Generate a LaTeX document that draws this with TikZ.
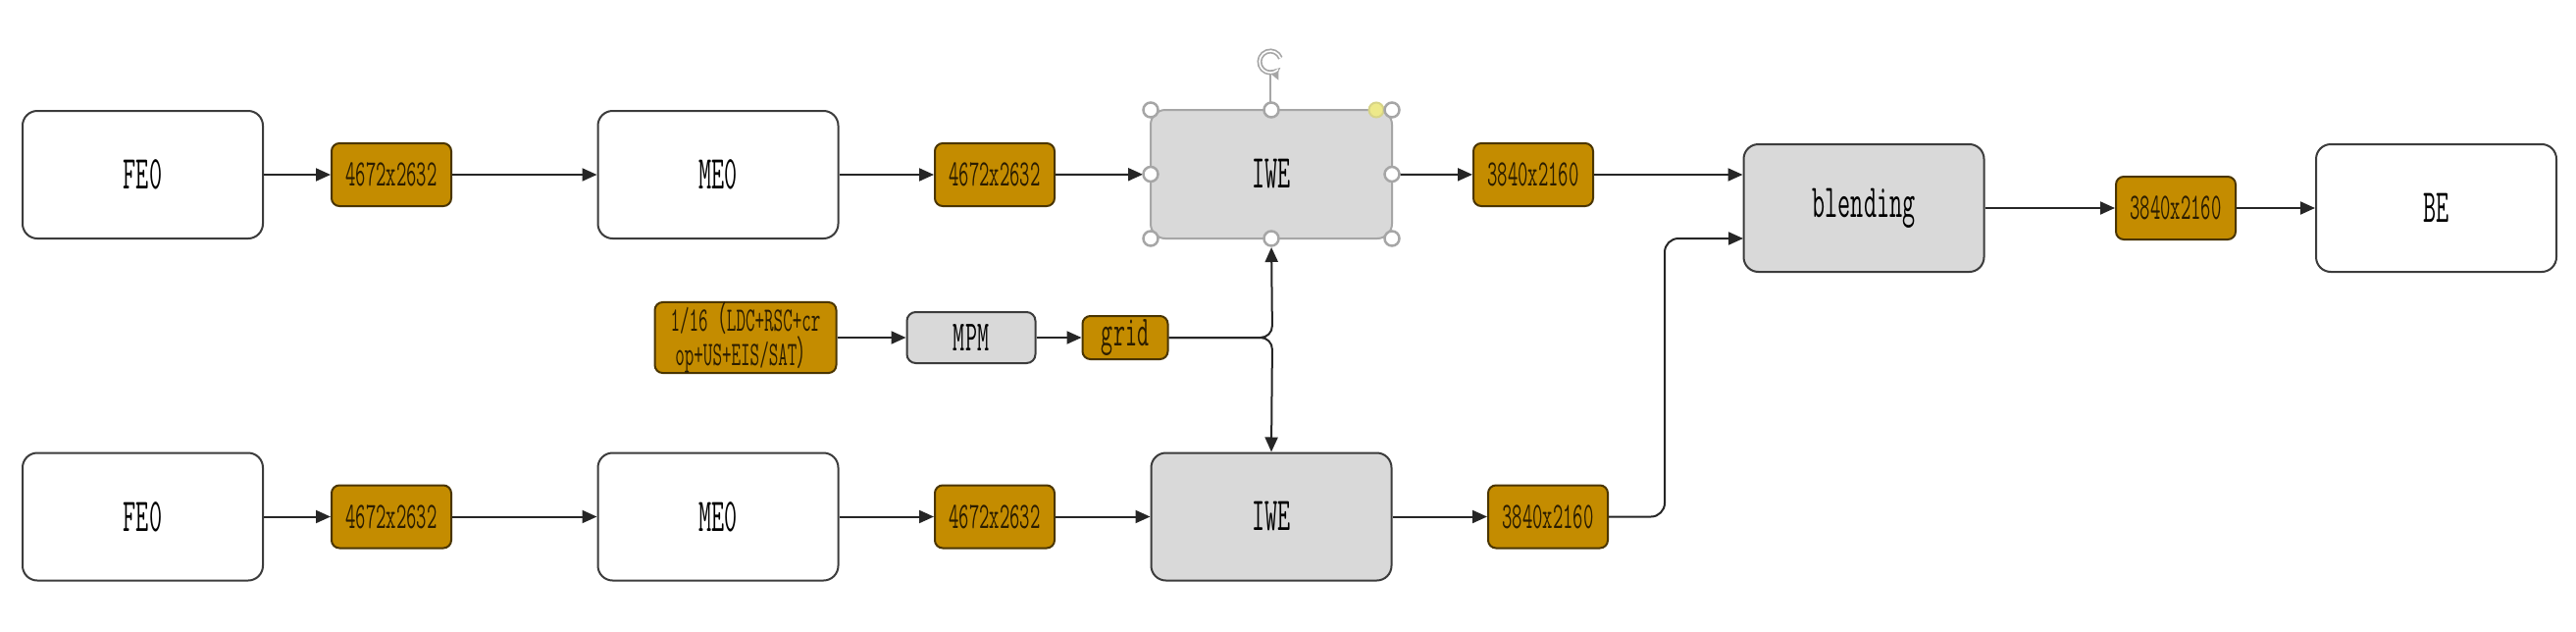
\documentclass[tikz,border=0pt]{standalone}
\usepackage{fontspec}
\newfontfamily\simfont[FakeStretch=0.53]{Latin Modern Mono}
\newfontfamily\cjkparen[FakeStretch=0.55]{Noto Sans CJK SC}
\usetikzlibrary{arrows.meta}
\definecolor{gold}{HTML}{C48C00}
\definecolor{goldline}{HTML}{4A3500}
\definecolor{boxgray}{HTML}{D9D9D9}
\definecolor{edge}{HTML}{3C3C3C}
\definecolor{badgetext}{HTML}{2B1D00}
\definecolor{selgray}{HTML}{A6A6A6}
\definecolor{adjyellow}{HTML}{EDE98A}
\begin{document}
\begin{tikzpicture}[x=1pt,y=-1pt,
  bigbox/.style={draw=edge, line width=2pt, rounded corners=15pt, minimum width=245pt, minimum height=130pt, inner sep=0pt, font=\simfont\fontsize{48}{48}\selectfont},
  whitebox/.style={bigbox, fill=white},
  graybox/.style={bigbox, fill=boxgray},
  badge/.style={draw=goldline, line width=2pt, fill=gold, rounded corners=8pt, minimum width=122pt, minimum height=64pt, inner sep=0pt, text=badgetext, font=\simfont\fontsize{38}{38}\selectfont},
  arr/.style={draw=black!85, line width=2pt, -{Triangle[length=15pt,width=13pt]}},
  ln/.style={draw=black!85, line width=2pt},
  handle/.style={draw=selgray, fill=white, line width=2.5pt}
]
\useasboundingbox (0,0) rectangle (2626,643);
\fill[white] (0,0) rectangle (2626,643);

% top row
\node[whitebox] (feoT) at (145.5,178) {FE0};
\node[badge] (b1T) at (399,178) {4672x2632};
\node[whitebox] (meoT) at (732,178) {ME0};
\node[badge] (b2T) at (1014,178) {4672x2632};
\node[graybox, draw=selgray, minimum width=246pt, minimum height=131pt] (iweT) at (1296,177.5) {IWE};
\node[badge] (b3T) at (1563,178) {3840x2160};
\node[graybox] (blend) at (1900,212) {blending};
\node[badge] (b4) at (2218,212) {3840x2160};
\node[whitebox] (be) at (2483.5,212) {BE};

% middle row
\node[badge, minimum width=185pt, align=center, font=\simfont\fontsize{35}{33}\selectfont] (src) at (760,344) {1/16{\cjkparen （}LDC+RSC+cr\\op+US+EIS/SAT{\cjkparen ）}};
\node[graybox, minimum width=131pt, minimum height=52pt, rounded corners=9pt, font=\simfont\fontsize{44}{44}\selectfont] (mpm) at (990,344) {MPM};
\node[badge, minimum width=87pt, minimum height=44pt, font=\simfont\fontsize{44}{44}\selectfont] (grid) at (1147,344) {grid};
\coordinate (J) at (1297,344);

% bottom row
\node[whitebox] (feoB) at (145.5,526.5) {FE0};
\node[badge] (b1B) at (399,526.5) {4672x2632};
\node[whitebox] (meoB) at (732,526.5) {ME0};
\node[badge] (b2B) at (1014,526.5) {4672x2632};
\node[graybox] (iweB) at (1296,526.5) {IWE};
\node[badge] (b3B) at (1578,526.5) {3840x2160};
\coordinate (kx) at (1697,243);
\coordinate (bin) at (1777,243);

% connectors top
\draw[arr] (feoT) -- (b1T);
\draw[arr] (b1T) -- (meoT);
\draw[arr] (meoT) -- (b2T);
\draw[arr, shorten >=7pt] (b2T) -- (iweT);
\draw[arr] (iweT) -- (b3T);
\draw[arr] (b3T) -- (b3T -| blend.west);
\draw[arr] (blend) -- (b4);
\draw[arr] (b4) -- (be);

% connectors middle
\draw[arr] (src) -- (mpm);
\draw[arr] (mpm) -- (grid);
\draw[arr, rounded corners=12pt, shorten >=8pt] (grid.east) -- (J) -- (iweT.south);
\draw[arr, rounded corners=12pt] (grid.east) -- (J) -- (iweB.north);

% connectors bottom
\draw[arr] (feoB) -- (b1B);
\draw[arr] (b1B) -- (meoB);
\draw[arr] (meoB) -- (b2B);
\draw[arr] (b2B) -- (iweB);
\draw[arr] (iweB) -- (b3B);
\draw[arr, rounded corners=14pt] (b3B.east) -- (kx |- b3B.east) -- (kx) -- (bin);

% selection handles on upper IWE
\draw[selgray, line width=1.5pt] (1295,76) -- (1295,105);
\draw[selgray, line width=5pt, -{Triangle[length=9pt,width=14pt]}] (1295,63) ++(-20:11) arc[start angle=-20, end angle=-320, radius=11];
\draw[white, line width=1.6pt] (1295,63) ++(-20:11) arc[start angle=-20, end angle=-315, radius=11];
\filldraw[fill=adjyellow, draw=adjyellow!80!gray, line width=2pt] (1403,112) circle[radius=7.5];
\foreach \hx/\hy in {1173/112,1296/112,1419/112,1173/177.5,1419/177.5,1173/243,1296/243,1419/243}
  \filldraw[handle] (\hx,\hy) circle[radius=7.5];
\end{tikzpicture}
\end{document}
